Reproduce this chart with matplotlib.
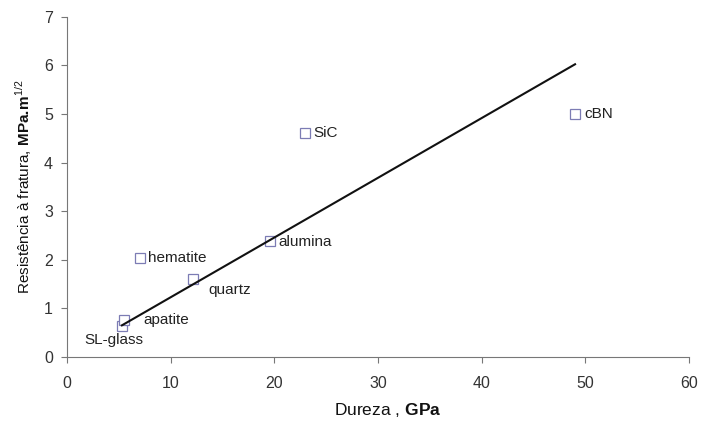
import numpy as np
import matplotlib.pyplot as plt

plt.rcParams['font.family'] = ['Liberation Sans', 'DejaVu Sans']
plt.rcParams['mathtext.fontset'] = 'custom'
plt.rcParams['mathtext.rm'] = 'Liberation Sans'
plt.rcParams['mathtext.bf'] = 'Liberation Sans:bold'

materiais = ['SL-glass', 'apatite', 'hematite', 'quartz', 'alumina', 'SiC', 'cBN']
dureza = [5.3, 5.5, 7.0, 12.2, 19.6, 23.0, 49.0]
resistencia = [0.64, 0.76, 2.03, 1.6, 2.39, 4.6, 5.0]
# deslocamento do texto (pontos) e alinhamento
offsets = [(-6, -10, 'center'), (14, 0, 'left'), (6, 0, 'left'), (11, -8, 'left'),
           (6, -1, 'left'), (6, 0, 'left'), (7, 0, 'left')]

x = np.array(dureza)
y = np.array(resistencia)
# linha de tendencia passando pela origem
a = np.sum(x * y) / np.sum(x * x)
xl = np.array([x.min(), x.max()])

fig = plt.figure(figsize=(7.11, 4.21), dpi=100)
ax = fig.add_axes([0.0942, 0.152, 0.875, 0.808])

ax.plot(x, y, 's', markersize=7.5, markerfacecolor='white',
        markeredgecolor='#7c7cb4', markeredgewidth=0.9, zorder=2)
ax.plot(xl, a * xl, color='#111111', linewidth=1.5, zorder=3)

for nome, xi, yi, (dx, dy, ha) in zip(materiais, dureza, resistencia, offsets):
    ax.annotate(nome, (xi, yi), xytext=(dx, dy), textcoords='offset points',
                ha=ha, va='center', fontsize=11, color='#222222')

ax.set_xlim(0, 60)
ax.set_ylim(0, 7)
ax.set_xticks(np.arange(0, 61, 10))
ax.set_yticks(np.arange(0, 8, 1))
for s in ['top', 'right']:
    ax.spines[s].set_visible(False)
for s in ['left', 'bottom']:
    ax.spines[s].set_color('#777777')
ax.tick_params(colors='#777777', labelcolor='#333333', labelsize=11.5, length=4, direction='out')
ax.tick_params(axis='x', pad=10)
ax.tick_params(axis='y', pad=6)

ax.set_xlabel(r'Dureza , $\mathbf{GPa}$', fontsize=12.5, color='#111111')
ax.xaxis.set_label_coords(0.515, -0.13)
ax.set_ylabel(r'Resistência à fratura, $\mathbf{MPa.\!m}^{1/2}$', fontsize=11, color='#111111', labelpad=7)

fig.savefig('out.png', dpi=100)
